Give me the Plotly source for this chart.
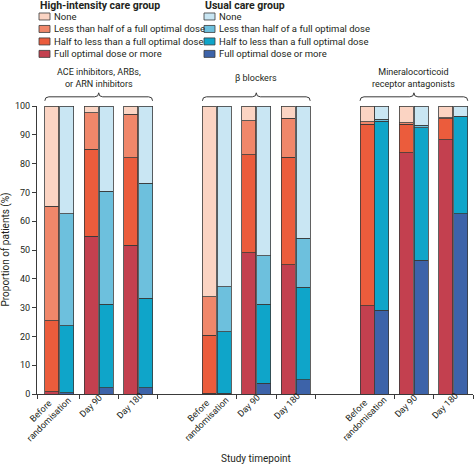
import plotly.graph_objects as go

# timepoints, three per drug class
timepoints = ['Before<br>randomisation', 'Day 90', 'Day 180'] * 3
slots = [0, 1, 2, 4, 5, 6, 8, 9, 10]
drug_classes = ['ACE inhibitors, ARBs,<br>or ARN inhibitors', 'β blockers',
                'Mineralocorticoid<br>receptor antagonists']
dose_levels = ['Full optimal dose or more', 'Half to less than a full optimal dose',
               'Less than half of a full optimal dose', 'None']

# high-intensity care group (% of patients, stacked bottom -> top)
hi_full = [0.7, 54.8, 51.6, 0.3, 49.1, 44.9, 30.7, 83.8, 88.3]
hi_half = [24.8, 30.1, 30.5, 20.1, 33.9, 37.3, 62.9, 9.9, 7.3]
hi_less = [39.7, 12.7, 15.1, 13.4, 11.8, 13.5, 0.9, 0.5, 0.4]
hi_none = [34.8, 2.4, 2.8, 66.2, 5.2, 4.3, 5.5, 5.8, 4.0]

# usual care group
uc_full = [0.4, 2.2, 2.2, 0.3, 3.8, 5.0, 29.0, 46.5, 62.6]
uc_half = [23.3, 29.0, 31.1, 21.4, 27.4, 32.1, 65.7, 45.9, 33.6]
uc_less = [38.9, 39.2, 39.9, 15.6, 16.8, 16.9, 0.7, 0.9, 0.2]
uc_none = [37.4, 29.6, 26.8, 62.7, 52.0, 46.0, 4.6, 6.7, 3.6]

hi_colors = ['#c3404f', '#eb5c3c', '#f0876a', '#fbd4c3']
uc_colors = ['#3d63a9', '#0fa5c9', '#6dc0dd', '#c9e6f3']

W, H = 474, 464
X0, X1, Y0, Y1 = 37, 473, 105.7, 394.3   # plot area in pixels
PW, PH = X1 - X0, Y1 - Y0
XMIN, XMAX = -0.066, 11                    # x axis in slot units
FONT = 'Roboto, sans-serif'
INK = '#231f20'
EDGE = '#3a3a3a'
# where each rotated tick label sits (centre offset from slot centre, px; centre y, px)
LABEL_POS = {'Before<br>randomisation': (-14, 415.5), 'Day 90': (-8, 406), 'Day 180': (-8.5, 406.5)}


def px_x(p):
    return (p - X0) / PW


def px_y(p):
    return (Y1 - p) / PH


def slot_paper(u):
    return (u - XMIN) / (XMAX - XMIN)


OFF, BW = 0.19, 0.355

fig = go.Figure()
for vals, col, name in zip([hi_full, hi_half, hi_less, hi_none], hi_colors, dose_levels):
    fig.add_trace(go.Bar(x=[s + 0.5 - OFF for s in slots], y=vals, width=BW, name=name,
                         marker=dict(color=col, line=dict(color=EDGE, width=0.8)), showlegend=False))
for vals, col, name in zip([uc_full, uc_half, uc_less, uc_none], uc_colors, dose_levels):
    fig.add_trace(go.Bar(x=[s + 0.5 + OFF for s in slots], y=vals, width=BW, name=name,
                         marker=dict(color=col, line=dict(color=EDGE, width=0.8)), showlegend=False))

fig.update_layout(
    barmode='stack', width=W, height=H, plot_bgcolor='white', paper_bgcolor='white',
    margin=dict(l=X0, r=W - X1, t=Y0, b=H - Y1, autoexpand=False),
    font=dict(family=FONT, size=9, color=INK),
    xaxis=dict(range=[XMIN, XMAX], showline=True, linecolor=EDGE, linewidth=1,
               tickmode='array', tickvals=[XMIN, 1, 2, 3, 5, 6, 7, 9, 10, 11],
               ticks='outside', ticklen=4, tickcolor=EDGE, showticklabels=False,
               showgrid=False, zeroline=False, automargin=False),
    yaxis=dict(range=[0, 100], dtick=10, showline=True, linecolor=EDGE, linewidth=1,
               ticks='outside', ticklen=4, tickcolor=EDGE, showgrid=False, zeroline=False,
               automargin=False, tickfont=dict(size=9, color=INK)),
)

# rotated timepoint labels, lines centred like the original
for s, lab in zip(slots, timepoints):
    dxp, cy = LABEL_POS[lab]
    fig.add_annotation(text=lab, x=s + 0.5 + dxp / PW * (XMAX - XMIN), y=px_y(cy),
                       xref='x', yref='paper', showarrow=False, textangle=-45, align='center',
                       xanchor='center', yanchor='middle', font=dict(size=9, color=INK))

# braces + class labels above each group
for g, label in enumerate(drug_classes):
    first, last = slots[3 * g], slots[3 * g + 2]
    x1 = slot_paper(first + 0.5 - OFF - BW / 2)
    x2 = slot_paper(last + 0.5 + OFF + BW / 2)
    xm = (x1 + x2) / 2
    yb, yf, yt = px_y(100.5), px_y(96.5), px_y(92.5)
    dx = 4 / PW
    path = (f'M {x1},{yb} Q {x1},{yf} {x1 + dx},{yf} L {xm - dx},{yf} '
            f'Q {xm},{yf} {xm},{yt} Q {xm},{yf} {xm + dx},{yf} '
            f'L {x2 - dx},{yf} Q {x2},{yf} {x2},{yb}')
    fig.add_shape(type='path', path=path, xref='paper', yref='paper',
                  line=dict(color=EDGE, width=1))
    fig.add_annotation(text=label, x=xm, y=px_y(78), xref='paper', yref='paper',
                       showarrow=False, xanchor='center', yanchor='middle',
                       font=dict(size=9, color=INK))

# two-column legend
legend_cols = [('High-intensity care group', hi_colors, 39),
               ('Usual care group', uc_colors, 204)]
row_y = [16, 28.5, 41, 53.5]
legend_labels = dose_levels[::-1]
for title, cols, x0 in legend_cols:
    fig.add_annotation(text=f'<b>{title}</b>', x=px_x(x0 - 1), y=px_y(4.5), xref='paper', yref='paper',
                       showarrow=False, xanchor='left', yanchor='middle', font=dict(size=10.5, color=INK))
    for ry, lab, col in zip(row_y, legend_labels, cols[::-1]):
        fig.add_shape(type='rect', xref='paper', yref='paper',
                      x0=px_x(x0), x1=px_x(x0 + 11), y0=px_y(ry + 3.5), y1=px_y(ry - 3.5),
                      fillcolor=col, line=dict(color=EDGE, width=0.8))
        fig.add_annotation(text=lab, x=px_x(x0 + 13), y=px_y(ry), xref='paper', yref='paper',
                           showarrow=False, xanchor='left', yanchor='middle',
                           font=dict(size=9.5, color=INK))

fig.add_annotation(text='Study timepoint', x=slot_paper(5.5), y=px_y(458.5), xref='paper', yref='paper',
                   showarrow=False, xanchor='center', yanchor='middle', font=dict(size=10, color=INK))
fig.add_annotation(text='Proportion of patients (%)', x=px_x(5.5), y=0.5, xref='paper', yref='paper',
                   showarrow=False, textangle=-90, xanchor='center', yanchor='middle',
                   font=dict(size=10, color=INK))

# drop the page's default body margin so the figure sits at the window's corner
fig.write_html('out.html', config={'displayModeBar': False},
               post_script="document.body.style.margin = '0px';")
